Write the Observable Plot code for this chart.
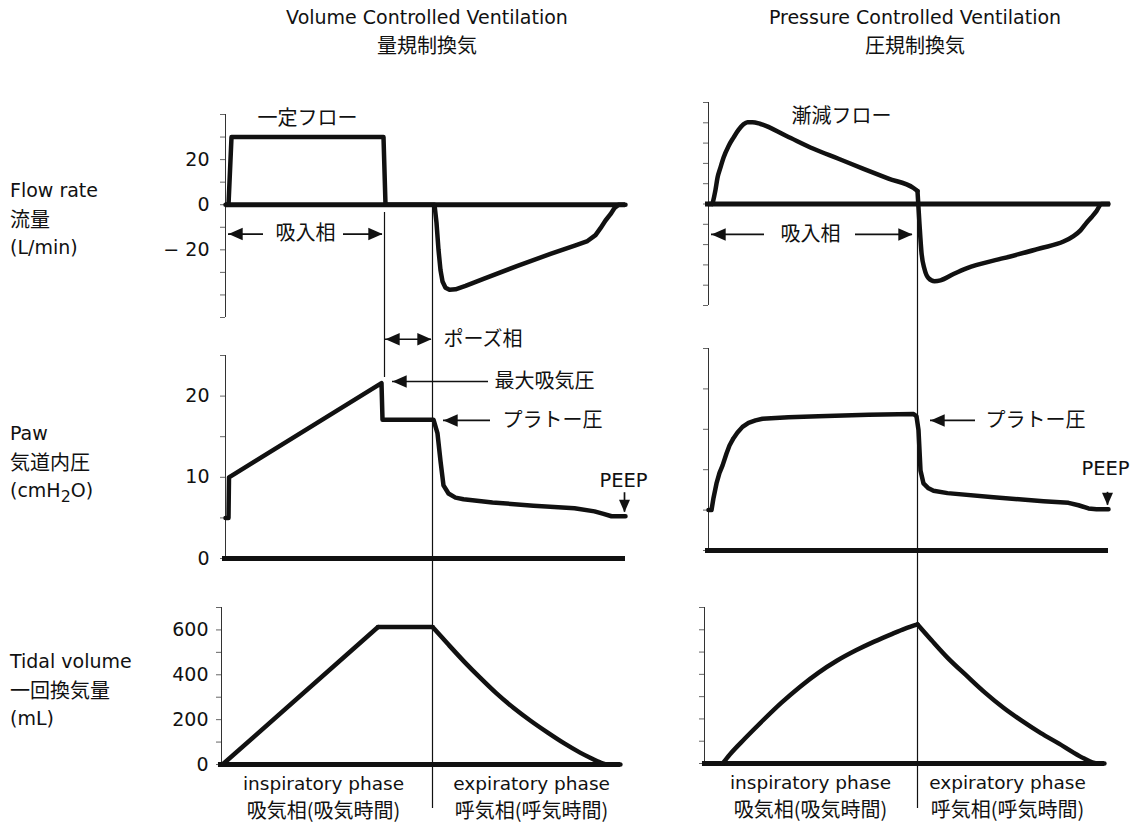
<!DOCTYPE html>
<html><head><meta charset="utf-8">
<script src="https://cdn.jsdelivr.net/npm/d3@7"></script>
<script src="https://cdn.jsdelivr.net/npm/@observablehq/plot@0.6"></script>
<style>
html,body{margin:0;padding:0;background:#fff;}
#chart{position:relative;width:1138px;height:830px;overflow:hidden;background:#fff;}
.lbl{position:absolute;white-space:nowrap;font-family:"DejaVu Sans","Noto Sans CJK JP",sans-serif;font-size:19px;color:#111;line-height:24px;}
.cjk{font-family:"Noto Sans CJK JP",sans-serif;font-size:20px;}
.ctr{transform:translateX(-50%);}
</style></head><body><div id="chart"></div>
<script>
// ---------- data ----------
const timeDomain = [0, 4];

// Volume controlled ventilation
const vcvFlowT = [0, 0.03, 0.06, 1.58, 1.60, 2.09, 2.11, 2.13, 2.15, 2.17, 2.20, 2.24, 2.30, 2.40, 2.58, 2.92, 3.25, 3.50, 3.62, 3.70, 3.75, 3.80, 3.85, 3.89, 3.93, 4.0];
const vcvFlowV = [0, 0, 30, 30, 0, 0, -8, -20, -29, -34, -36.8, -37.7, -37.5, -36, -32.9, -27.1, -21.8, -18, -16.1, -13.5, -10.4, -7, -4.2, -1.5, 0, 0];
const vcvPawT = [0, 0.03, 0.035, 1.56, 1.57, 2.08, 2.12, 2.15, 2.18, 2.23, 2.30, 2.38, 2.67, 3.08, 3.49, 3.69, 3.78, 3.86, 4.0];
const vcvPawV = [5, 5, 10, 21.6, 17.1, 17.1, 15.4, 12, 9.0, 8.0, 7.5, 7.3, 6.9, 6.5, 6.2, 5.8, 5.5, 5.2, 5.2];
const vcvVolT = [0.01, 1.55, 2.09, 2.24, 2.40, 2.56, 2.72, 2.89, 3.06, 3.23, 3.39, 3.55, 3.66, 3.75, 3.83, 3.95];
const vcvVolV = [0, 613, 613, 538, 460, 387, 318, 253, 195, 142, 95, 53, 28, 9, 0, 0];
const vcvPauseT = 1.59;
const vcvExpT = 2.07;

// Pressure controlled ventilation
const pcvFlowT = [0, 0.04, 0.07, 0.09, 0.12, 0.15, 0.20, 0.25, 0.30, 0.35, 0.39, 0.44, 0.52, 0.78, 1.05, 1.30, 1.55, 1.80, 2.05, 2.09, 2.11, 2.13, 2.16, 2.20, 2.26, 2.32, 2.45, 2.58, 2.95, 3.32, 3.55, 3.65, 3.72, 3.77, 3.83, 3.88, 3.93, 4.0];
const pcvFlowV = [0, 0, 7, 12.9, 18, 22.8, 28.5, 32.7, 36.5, 39.3, 40.3, 40.3, 39.4, 33.5, 27.2, 22.3, 17.3, 12.5, 7.9, 6.4, -10, -24, -32, -36.5, -38, -37.6, -34.5, -31.7, -26.7, -21.8, -18.5, -15.8, -13, -9.9, -6.5, -3.5, 0, 0];
const pcvPawT = [0, 0.03, 0.05, 0.08, 0.11, 0.14, 0.18, 0.21, 0.25, 0.29, 0.34, 0.40, 0.47, 0.54, 0.80, 1.10, 1.60, 2.05, 2.08, 2.10, 2.12, 2.15, 2.20, 2.25, 2.39, 2.85, 3.35, 3.60, 3.70, 3.80, 3.88, 4.0];
const pcvPawV = [5, 5, 6.5, 8.3, 9.6, 10.5, 12, 13, 13.9, 14.6, 15.3, 15.8, 16.1, 16.3, 16.5, 16.6, 16.8, 16.9, 16.6, 14.9, 9.9, 8.3, 7.7, 7.4, 7.1, 6.6, 6.1, 5.9, 5.6, 5.2, 5.1, 5.1];
const pcvVolT = [0.18, 0.25, 0.40, 0.58, 0.76, 0.95, 1.13, 1.31, 1.50, 1.68, 1.86, 1.98, 2.11, 2.25, 2.41, 2.60, 2.78, 2.96, 3.14, 3.33, 3.51, 3.65, 3.76, 3.84, 3.90, 3.96];
const pcvVolV = [0, 40, 112, 194, 272, 346, 408, 461, 508, 547, 582, 604, 624, 552, 473, 392, 317, 250, 192, 136, 89, 50, 22, 5, 0, 0];
const pcvExpT = 2.09;

// axes
const flowTicksL = [-50, -40, -30, -20, -10, 0, 10, 20, 30, 40];
const flowLabelsL = [-20, 0, 20];
const flowTicksR = [-50, -40, -30, -20, -10, 0, 10, 20, 30, 40, 50];
const pawTicks = [0, 5, 10, 15, 20, 25];
const pawLabels = [0, 10, 20];
const volTicks = [0, 100, 200, 300, 400, 500, 600, 700];
const volLabels = [0, 200, 400, 600];

// texts
const titles = [
  {col: "L", en: "Volume Controlled Ventilation", ja: "量規制換気"},
  {col: "R", en: "Pressure Controlled Ventilation", ja: "圧規制換気"}
];
const rowLabels = [
  ["Flow rate", "流量", "(L/min)"],
  ["Paw", "気道内圧", "(cmH<sub>2</sub>O)"],
  ["Tidal volume", "一回換気量", "(mL)"]
];
const phaseEn = ["inspiratory phase", "expiratory phase"];
const phaseJa = ["吸気相(吸気時間)", "呼気相(呼気時間)"];
const phaseT_L = [1.01, 3.07];
const phaseT_R = [1.05, 3.00];

// ---------- helpers ----------
const cjk = "Noto Sans CJK JP, sans-serif";
const latin = "DejaVu Sans, Noto Sans CJK JP, sans-serif";
const ink = "#111";
// split a series at given break times so that each piece can be smoothed on its own
const rows = (T, V, breaks = []) => T.flatMap((t, i) => {
  const seg = breaks.filter(b => t > b).length;
  const r = [{t, v: V[i], seg}];
  if (breaks.includes(t)) r.push({t, v: V[i], seg: seg + 1});
  return r;
});
const fmt = d => d < 0 ? `− ${-d}` : `${d}`;

const headRight = {draw(c, size) {const s = Math.sqrt(size); c.moveTo(0, 0); c.lineTo(-1.25 * s, -0.55 * s); c.lineTo(-1.25 * s, 0.55 * s); c.closePath();}};
const headLeft = {draw(c, size) {const s = Math.sqrt(size); c.moveTo(0, 0); c.lineTo(1.25 * s, -0.55 * s); c.lineTo(1.25 * s, 0.55 * s); c.closePath();}};
const headDown = {draw(c, size) {const s = Math.sqrt(size); c.moveTo(0, 0); c.lineTo(-0.55 * s, -1.25 * s); c.lineTo(0.55 * s, -1.25 * s); c.closePath();}};

function arrowMarks(a) {
  const m = [];
  const R = 6.4;
  if (a.hShafts) m.push(Plot.ruleY(a.hShafts, {y: "y", x1: "x1", x2: "x2", stroke: ink, strokeWidth: 1.7}));
  if (a.vShafts) m.push(Plot.ruleX(a.vShafts, {x: "x", y1: "y1", y2: "y2", stroke: ink, strokeWidth: 1.7}));
  if (a.left) m.push(Plot.dot(a.left, {x: "x", y: "y", symbol: headLeft, r: R, fill: ink, stroke: "none"}));
  if (a.right) m.push(Plot.dot(a.right, {x: "x", y: "y", symbol: headRight, r: R, fill: ink, stroke: "none"}));
  if (a.down) m.push(Plot.dot(a.down, {x: "x", y: "y", symbol: headDown, r: 5.6, fill: ink, stroke: "none"}));
  if (a.cjkMid) m.push(Plot.text(a.cjkMid, {x: "x", y: "y", text: "text", textAnchor: "middle", fontFamily: cjk, fontSize: 20, fill: ink}));
  if (a.cjkStart) m.push(Plot.text(a.cjkStart, {x: "x", y: "y", text: "text", textAnchor: "start", fontFamily: cjk, fontSize: 20, fill: ink}));
  if (a.latinText) m.push(Plot.text(a.latinText, {x: "x", y: "y", text: "text", textAnchor: "middle", fontFamily: latin, fontSize: 19.5, fill: ink}));
  return m;
}

const chart = document.getElementById("chart");

function panel(cfg) {
  const [y0, y1] = cfg.yDomain;
  const marks = [
    Plot.ruleX([{x: 0, y1: y0, y2: y1}], {x: "x", y1: "y1", y2: "y2", stroke: "#333", strokeWidth: 1}),
    Plot.axisY({ticks: cfg.ticks, tickSize: 5, tickPadding: cfg.pad, stroke: "#666", label: null,
      tickFormat: d => cfg.labels.includes(d) ? fmt(d) : ""}),
    Plot.ruleY([{y: 0, x1: cfg.base[0], x2: cfg.base[1]}], {y: "y", x1: "x1", x2: "x2", stroke: ink, strokeWidth: 5}),
    Plot.line(rows(cfg.t, cfg.v, cfg.breaks || []), {x: "t", y: "v", z: "seg", curve: cfg.curve || "linear",
      stroke: ink, strokeWidth: 4.5, strokeLinejoin: "round", strokeLinecap: "round"}),
    ...(cfg.extra || [])
  ];
  const svg = Plot.plot({
    width: 1138, height: cfg.h,
    marginTop: cfg.mt, marginBottom: cfg.mb, marginLeft: cfg.ml, marginRight: cfg.mr,
    x: {domain: timeDomain, axis: null},
    y: {domain: cfg.yDomain},
    style: {background: "none", overflow: "visible", fontFamily: "DejaVu Sans", fontSize: "19px", color: ink},
    marks
  });
  svg.style.position = "absolute";
  svg.style.left = "0px";
  svg.style.top = cfg.top + "px";
  chart.append(svg);
}

function overlay(cfg) {
  const svg = Plot.plot({
    width: 1138, height: 830,
    marginTop: cfg.mt, marginBottom: cfg.mb, marginLeft: cfg.ml, marginRight: cfg.mr,
    x: {domain: timeDomain, axis: null},
    style: {background: "none", overflow: "visible"},
    marks: [Plot.ruleX([cfg.t], {stroke: ink, strokeWidth: 1.2})]
  });
  svg.style.position = "absolute";
  svg.style.left = "0px";
  svg.style.top = "0px";
  chart.append(svg);
}

const phaseMarks = (T) => [
  Plot.text(phaseEn.map((s, i) => ({t: T[i], s})), {x: "t", text: "s", frameAnchor: "bottom", dy: 25, fontFamily: latin, fontSize: 18.5, fill: ink}),
  Plot.text(phaseJa.map((s, i) => ({t: T[i], s})), {x: "t", text: "s", frameAnchor: "bottom", dy: 53, fontFamily: cjk, fontSize: 20, fill: ink})
];

// ---------- left column: VCV ----------
panel({top: 80, h: 245, mt: 34, mb: 8, ml: 225, mr: 513, yDomain: [-50, 40], ticks: flowTicksL, labels: flowLabelsL, pad: 11,
  base: [0, 4.0], t: vcvFlowT, v: vcvFlowV,
  extra: arrowMarks({
    hShafts: [{y: -13, x1: 0.03, x2: 0.38}, {y: -13, x1: 1.18, x2: 1.57}],
    left: [{x: 0.03, y: -13}], right: [{x: 1.57, y: -13}],
    cjkMid: [{x: 0.80, y: -13, text: "吸入相"}, {x: 0.82, y: 38.2, text: "一定フロー"}]
  })});

panel({top: 325, h: 255, mt: 30, mb: 22, ml: 225, mr: 513, yDomain: [0, 25], ticks: pawTicks, labels: pawLabels, pad: 11,
  base: [-0.03, 4.0], t: vcvPawT, v: vcvPawV,
  extra: arrowMarks({
    hShafts: [{y: 27, x1: 1.60, x2: 2.06}, {y: 21.8, x1: 1.67, x2: 2.63}, {y: 17.0, x1: 2.18, x2: 2.65}],
    vShafts: [{x: 3.99, y1: 8.1, y2: 5.7}],
    left: [{x: 1.60, y: 27}, {x: 1.67, y: 21.8}, {x: 2.18, y: 17.0}],
    right: [{x: 2.06, y: 27}],
    down: [{x: 3.99, y: 5.7}],
    cjkStart: [{x: 2.18, y: 27, text: "ポーズ相"}, {x: 2.69, y: 21.8, text: "最大吸気圧"}, {x: 2.77, y: 17.0, text: "プラトー圧"}],
    latinText: [{x: 3.98, y: 9.6, text: "PEEP"}]
  })});

panel({top: 580, h: 250, mt: 27, mb: 66, ml: 221, mr: 513, yDomain: [0, 700], ticks: volTicks, labels: volLabels, pad: 8,
  base: [-0.03, 3.95], t: vcvVolT, v: vcvVolV, breaks: [1.55, 2.09], curve: "monotone-x", extra: phaseMarks(phaseT_L)});

// ---------- right column: PCV ----------
panel({top: 80, h: 245, mt: 22, mb: 20, ml: 708, mr: 30, yDomain: [-50, 50], ticks: flowTicksR, labels: [], pad: 8,
  base: [-0.03, 4.02], t: pcvFlowT, v: pcvFlowV, breaks: [0.04, 2.09], curve: "monotone-x",
  extra: arrowMarks({
    hShafts: [{y: -15, x1: 0.03, x2: 0.56}, {y: -15, x1: 1.47, x2: 2.04}],
    left: [{x: 0.03, y: -15}], right: [{x: 2.04, y: -15}],
    cjkMid: [{x: 1.02, y: -15, text: "吸入相"}, {x: 1.33, y: 43, text: "漸減フロー"}]
  })});

panel({top: 325, h: 255, mt: 23, mb: 30, ml: 708, mr: 30, yDomain: [0, 25], ticks: pawTicks, labels: [], pad: 8,
  base: [-0.03, 4.0], t: pcvPawT, v: pcvPawV,
  extra: arrowMarks({
    hShafts: [{y: 16.1, x1: 2.22, x2: 2.67}],
    vShafts: [{x: 3.99, y1: 7.2, y2: 5.6}],
    left: [{x: 2.22, y: 16.1}],
    down: [{x: 3.99, y: 5.6}],
    cjkStart: [{x: 2.77, y: 16.1, text: "プラトー圧"}],
    latinText: [{x: 3.97, y: 10.1, text: "PEEP"}]
  })});

panel({top: 580, h: 250, mt: 27, mb: 67, ml: 704, mr: 30, yDomain: [0, 700], ticks: volTicks, labels: [], pad: 8,
  base: [-0.02, 3.96], t: pcvVolT, v: pcvVolV, breaks: [0.18, 2.11], curve: "monotone-x", extra: phaseMarks(phaseT_R)});

// phase boundary lines
overlay({t: vcvPauseT, mt: 212, mb: 453, ml: 225, mr: 513});
overlay({t: vcvExpT, mt: 203, mb: 22, ml: 225, mr: 513});
overlay({t: pcvExpT, mt: 192, mb: 22, ml: 708, mr: 30});

// ---------- HTML labels ----------
function addLabel(html, x, yc, cls, center) {
  const d = document.createElement("div");
  d.className = "lbl" + (cls ? " " + cls : "") + (center ? " ctr" : "");
  d.innerHTML = html;
  d.style.left = x + "px";
  d.style.top = (yc - 12) + "px";
  chart.append(d);
}
const titleX = {L: 427, R: 915};
titles.forEach(t => {
  addLabel(t.en, titleX[t.col], 17, "", true);
  addLabel(t.ja, titleX[t.col], 45, "cjk", true);
});
const rowY = [190, 433, 661];
rowLabels.forEach((r, i) => {
  addLabel(r[0], 10, rowY[i], "", false);
  addLabel(r[1], 10, rowY[i] + 28.5, "cjk", false);
  addLabel(r[2], 10, rowY[i] + 57, "", false);
});
</script></body></html>
